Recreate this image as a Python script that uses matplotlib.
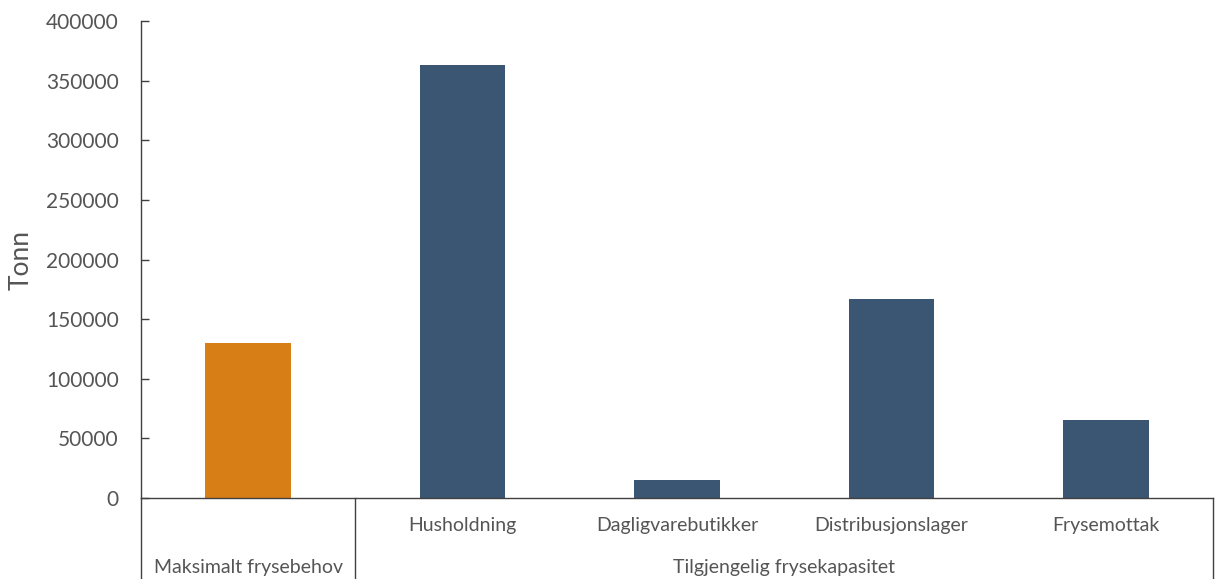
import matplotlib

matplotlib.use("Agg")
import matplotlib.pyplot as plt
import numpy as np
from matplotlib import rcParams
from matplotlib.transforms import blended_transform_factory

rcParams["font.family"] = ["Lato", "DejaVu Sans"]

# Frysebehov mot tilgjengelig frysekapasitet (tonn)
categories = ["Maksimalt frysebehov", "Husholdning", "Dagligvarebutikker",
              "Distribusjonslager", "Frysemottak"]
values = [130000, 363500, 15500, 166900, 65400]
groups = ["Maksimalt frysebehov", "Tilgjengelig frysekapasitet"]
group_sizes = [1, 4]
yticks = [0, 50000, 100000, 150000, 200000, 250000, 300000, 350000, 400000]

ORANGE = "#D77E17"
BLUE = "#3A5672"
TEXT = "#555555"
LINE = "#404040"

W, H = 1215, 579
fig = plt.figure(figsize=(W / 100, H / 100), dpi=100)
ax = fig.add_axes([141 / W, (H - 498) / H, (1213 - 141) / W, (498 - 21) / H])

x = np.arange(len(categories))
colors = [ORANGE] + [BLUE] * (len(categories) - 1)
ax.bar(x, values, width=0.4, color=colors, zorder=2)

ax.set_xlim(-0.5, len(categories) - 0.5)
ax.set_ylim(0, 400000)
ax.set_yticks(yticks)
ax.set_yticklabels([str(v) for v in yticks], fontsize=15, color=TEXT)
ax.tick_params(axis="y", direction="in", length=6, width=1.0, color=LINE, pad=16)
ax.set_xticks([])
ax.set_ylabel("Tonn", fontsize=19, color=TEXT, labelpad=9)

for side in ("top", "right"):
    ax.spines[side].set_visible(False)
for side in ("left", "bottom"):
    ax.spines[side].set_color(LINE)
    ax.spines[side].set_linewidth(1.0)

# Flernivå kategoriakse under plottet
trans = blended_transform_factory(ax.transData, ax.transAxes)
bottom = -(579 - 498) / (498 - 21)
row1 = -(525 - 498) / (498 - 21)
row2 = -(567 - 498) / (498 - 21)

start = -0.5
bounds = [start]
for n in group_sizes:
    start += n
    bounds.append(start)
for b in bounds:
    ax.plot([b, b], [0, bottom], transform=trans, color=LINE, lw=1.0, clip_on=False)

for i, name in enumerate(categories):
    if i >= group_sizes[0]:
        ax.text(i, row1, name, transform=trans, ha="center", va="center",
                fontsize=14, color=TEXT)

for g, (name, lo, hi) in enumerate(zip(groups, bounds[:-1], bounds[1:])):
    ax.text((lo + hi) / 2, row2, name, transform=trans, ha="center", va="center",
            fontsize=14, color=TEXT)

fig.savefig("out.png", dpi=100, facecolor="white")
